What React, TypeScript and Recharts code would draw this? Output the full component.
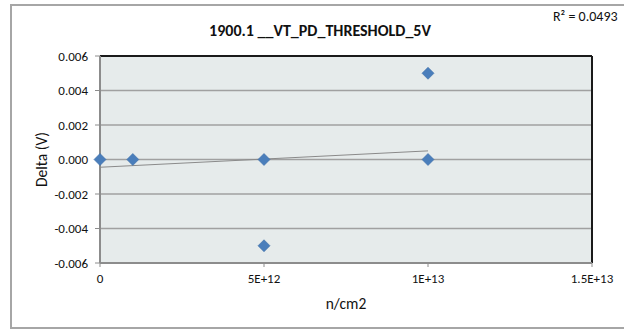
import React from 'react';
import {
  ScatterChart,
  Scatter,
  XAxis,
  YAxis,
  CartesianGrid,
  ReferenceLine,
  Label
} from 'recharts';

// measured points (fluence n/cm2, delta V)
const fluence = [0, 1e12, 5e12, 5e12, 1e13, 1e13];
const delta = [0, 0, 0, -0.005, 0.005, 0];

// linear trendline end points, as drawn by the spreadsheet
const trendFluence = [0, 1e13];
const trendDelta = [-0.00045, 0.0005];

const xTicks = [0, 5e12, 1e13, 1.5e13];
const xTickLabels = ['0', '5E+12', '1E+13', '1.5E+13'];
const yTicks = [-0.006, -0.004, -0.002, 0, 0.002, 0.004, 0.006];

const title = '1900.1 __VT_PD_THRESHOLD_5V';
const rSquared = 'R\u00b2 = 0.0493';

const points = fluence.map((x, i) => ({ x, y: delta[i] }));
const trend = trendFluence.map((x, i) => ({ x, y: trendDelta[i] }));

const font = 'Carlito, Lato, sans-serif';
const tickStyle = { fill: '#111', fontSize: 13, fontFamily: font };

const Diamond = (props: any) => {
  const { cx, cy } = props;
  if (cx == null || cy == null) return null;
  const r = 6;
  return (
    <path
      d={`M${cx},${cy - r}L${cx + r},${cy}L${cx},${cy + r}L${cx - r},${cy}Z`}
      fill="#4A7EBB"
      stroke="#3E6EA8"
      strokeWidth={0.6}
    />
  );
};

const NoDot = () => null;

const App: React.FC = () => {
  return (
    <div style={{ position: 'absolute', left: 0, top: 0, width: 624, height: 335, background: '#fff', overflow: 'hidden', fontFamily: font }}>
      <div style={{ position: 'absolute', left: 10, top: 4, width: 640, height: 325, border: '2px solid #a6a6a6', boxSizing: 'border-box' }} />
      <div style={{ position: 'absolute', left: 10, width: 620, top: 21, textAlign: 'center', fontWeight: 'bold', fontSize: 16, color: '#111' }}>
        {title}
      </div>
      <div style={{ position: 'absolute', left: 553, top: 8, fontSize: 14, color: '#111', whiteSpace: 'nowrap' }}>
        {rSquared}
      </div>
      <ScatterChart
        width={624}
        height={335}
        margin={{ top: 56, right: 32, bottom: 42, left: 30 }}
        style={{ position: 'absolute', left: 0, top: 0 }}
      >
        <CartesianGrid horizontal vertical={false} fill="#E6EBEB" stroke="#a0a0a0" strokeWidth={1.5} />
        <XAxis
          type="number"
          dataKey="x"
          domain={[0, 1.5e13]}
          ticks={xTicks}
          tickFormatter={(v: number) => xTickLabels[xTicks.indexOf(v)] ?? ''}
          height={30}
          tickSize={4}
          tickMargin={7}
          fontSize={13}
          axisLine={{ stroke: '#8c8c8c', strokeWidth: 2 }}
          tickLine={{ stroke: '#8c8c8c' }}
          tick={{ ...tickStyle, style: tickStyle }}
          interval={0}
        >
          <Label value="n/cm2" position="bottom" offset={5} style={{ fill: '#111', fontSize: 15.5, fontFamily: font }} />
        </XAxis>
        <YAxis
          type="number"
          dataKey="y"
          domain={[-0.006, 0.006]}
          ticks={yTicks}
          tickFormatter={(v: number) => v.toFixed(3)}
          width={70}
          tickSize={5}
          tickMargin={7}
          fontSize={13}
          axisLine={{ stroke: '#8c8c8c', strokeWidth: 2 }}
          tickLine={{ stroke: '#8c8c8c' }}
          tick={{ ...tickStyle, style: tickStyle }}
          interval={0}
        >
          <Label
            value="Delta (V)"
            angle={-90}
            position="insideLeft"
            offset={11}
            style={{ textAnchor: 'middle', fill: '#111', fontSize: 15.5, fontFamily: font }}
          />
        </YAxis>
        <ReferenceLine y={0.006} stroke="#1a1a1a" strokeWidth={2} />
        <ReferenceLine x={1.5e13} stroke="#1a1a1a" strokeWidth={2} />
        <Scatter
          data={trend}
          line={{ stroke: '#8a8a8a', strokeWidth: 1 }}
          shape={NoDot}
          isAnimationActive={false}
        />
        <Scatter data={points} shape={Diamond} isAnimationActive={false} />
      </ScatterChart>
    </div>
  );
};

export default App;
